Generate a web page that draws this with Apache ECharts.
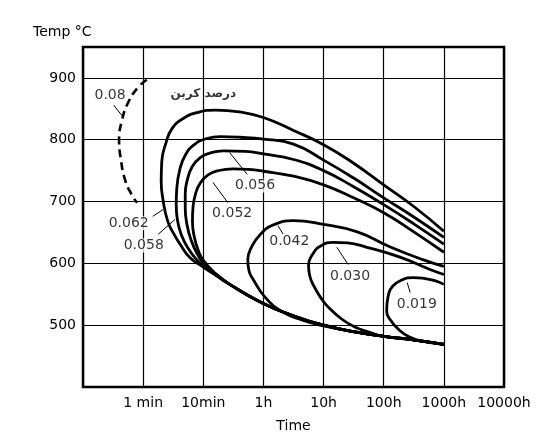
<!DOCTYPE html>
<html><head><meta charset="utf-8">
<script src="https://cdn.jsdelivr.net/npm/echarts/dist/echarts.min.js"></script>
<style>html,body{margin:0;padding:0;background:#fff}#c{width:550px;height:447px}</style>
</head><body><div id="c"></div>
<script>
// x axis: one unit per decade of time (0 = left border)
const xTickLabels = ['', '1 min', '10min', '1h', '10h', '100h', '1000h', '10000h'];
const yTickLabels = [500, 600, 700, 800, 900];

// curves: [time-decade index, temperature °C]
const curve008 = [[1.06,897],[0.91,884],[0.75,860],[0.65,832],[0.60,800],[0.63,768],[0.70,735],[0.81,711],[0.90,698]];
const envelope = [[2.44,566],[2.98,536],[3.53,514],[4.0,500],[4.52,489],[5.0,482],[5.52,476],[6,469]];
const curve062 = [[6,652],[5.5,692],[5.0,727],[4.5,762],[4.0,792],[3.5,815],[3.0,836],[2.6,845],[2.2,848],[1.9,844],[1.66,834],[1.48,818],[1.38,795],[1.31,765],[1.30,733],[1.33,703],[1.41,668],[1.52,646],[1.62,630],[1.78,609],[2.0,594],[2.2,581]];
const curve058 = [[6,642],[5.5,675],[5.0,706],[4.5,738],[4.0,767],[3.5,793],[3.0,801],[2.61,804],[2.28,805],[2.06,802],[1.85,792],[1.70,775],[1.61,752],[1.56,722],[1.55,695],[1.57,670],[1.64,645],[1.75,624],[1.88,607],[2.0,596],[2.2,582]];
const curve056 = [[6,631],[5.5,664],[5.0,695],[4.5,724],[4.0,750],[3.5,768],[3.0,777],[2.7,781],[2.33,782],[2.1,778],[1.95,771],[1.82,757],[1.74,737],[1.70,712],[1.70,690],[1.73,662],[1.80,637],[1.90,615],[2.0,601],[2.2,583]];
const curve052 = [[6,618],[5.5,651],[5.0,682],[4.5,706],[4.0,727],[3.5,741],[3.0,749],[2.75,752],[2.49,753],[2.25,750],[2.08,743],[1.95,730],[1.87,712],[1.83,692],[1.82,668],[1.85,643],[1.92,620],[2.0,605],[2.2,584]];
const curve042 = [[6,595],[5.65,606],[5.1,627],[4.56,651],[4.0,663],[3.5,669],[3.16,662],[2.94,646],[2.80,626],[2.74,606],[2.76,588],[2.83,574],[3.03,545],[3.31,522],[3.65,508],[4.0,499],[4.52,489],[5.0,482],[5.52,476],[6,469]];
const curve030 = [[6,582],[5.77,590],[5.27,610],[4.72,626],[4.4,633],[4.16,634],[3.95,628],[3.82,615],[3.75,597],[3.77,580],[3.84,563],[3.95,545],[4.07,530],[4.3,510],[4.52,497],[4.75,489],[5.0,482],[5.52,476],[6,469]];
const curve019 = [[6,566],[5.85,572],[5.65,576],[5.49,577],[5.3,573],[5.15,563],[5.07,545],[5.05,525],[5.1,510],[5.27,491],[5.45,480],[5.65,474],[6,469]];

// annotation texts and their anchors (data units)
const labelTexts = ['0.08', 'درصد کربن', '0.062', '0.058', '0.056', '0.052', '0.042', '0.030', '0.019'];
const labelAnchors = [[0.45,871],[2.0,874],[0.76,665],[1.01,629],[2.86,726],[2.48,681],[3.43,636],[4.44,579],[5.55,534]];
const leaders = [
  [[0.51,856],[0.68,835]],
  [[1.16,676],[1.33,687]],
  [[1.25,647],[1.53,671]],
  [[2.73,744],[2.44,779]],
  [[2.41,698],[2.16,731]],
  [[3.33,647],[3.24,661]],
  [[4.41,598],[4.22,626]],
  [[5.44,553],[5.39,569]]
];

const FONT = 'DejaVu Sans';
const SMOOTH = 0.5;
const solidCurves = [curve062, curve058, curve056, curve052];
const series = [];
solidCurves.forEach(c => series.push({type:'line', data:c.concat(envelope), smooth:SMOOTH, showSymbol:false, lineStyle:{color:'#000', width:2.8}, z:3}));
[curve042, curve030, curve019].forEach(c => series.push({type:'line', data:c, smooth:SMOOTH, showSymbol:false, lineStyle:{color:'#000', width:2.8}, z:3}));
series.push({type:'line', data:curve008, smooth:SMOOTH, showSymbol:false, lineStyle:{color:'#000', width:2.6, type:[8,5]}, z:3});
leaders.forEach(l => series.push({type:'line', data:l, showSymbol:false, lineStyle:{color:'#000', width:1}, z:3}));
series.push({
  type:'scatter', symbolSize:0, z:5,
  data: labelAnchors.map((p,i) => ({value:p, name:labelTexts[i]})),
  label:{show:true, position:'inside', formatter:p => p.name, color:'#000', fontFamily:FONT, fontSize:14,
    backgroundColor:'#fff', padding:[0,1]}
});
series[series.length-1].data[1].label = {fontSize:12, fontWeight:'bold', backgroundColor:'transparent'};

const chart = echarts.init(document.getElementById('c'), null, {renderer:'canvas'});
chart.setOption({
  animation:false,
  backgroundColor:'#fff',
  title:{text:'Temp °C', left:28, top:20, textStyle:{fontFamily:FONT, fontSize:14, fontWeight:'normal', color:'#000'}},
  grid:{left:83, right:46, top:47, bottom:60, show:true, borderColor:'#000', borderWidth:2.5},
  xAxis:{type:'value', min:0, max:7, interval:1,
    axisLine:{show:false}, axisTick:{show:false},
    splitLine:{show:true, lineStyle:{color:'#000', width:1.2}},
    axisLabel:{formatter:v => xTickLabels[Math.round(v)] || '', color:'#000', fontFamily:FONT, fontSize:14, margin:9},
    name:'Time', nameLocation:'middle', nameGap:32,
    nameTextStyle:{color:'#000', fontFamily:FONT, fontSize:14}},
  yAxis:{type:'value', min:400, max:950, interval:100,
    axisLine:{show:false}, axisTick:{show:false},
    splitLine:{show:true, lineStyle:{color:'#000', width:1.2}},
    axisLabel:{formatter:v => yTickLabels.includes(v) ? String(v) : '', color:'#000', fontFamily:FONT, fontSize:14, margin:7}},
  series: series
});
</script></body></html>
